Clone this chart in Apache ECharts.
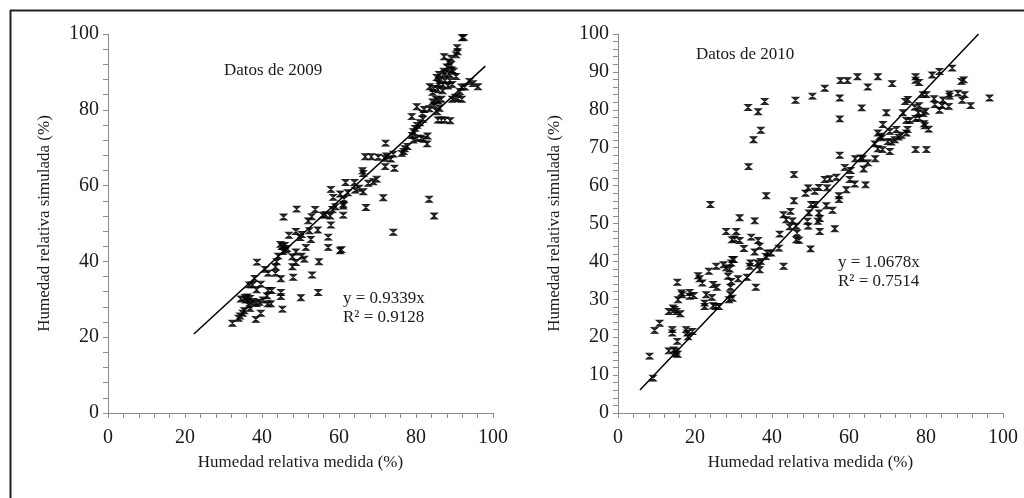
<!DOCTYPE html>
<html>
<head>
<meta charset="utf-8">
<script src="https://cdn.jsdelivr.net/npm/echarts@6/dist/echarts.min.js"></script>
<style>
  html, body { margin: 0; padding: 0; background: #fff; }
  #chart { width: 1024px; height: 498px; }
</style>
</head>
<body>
<div id="chart"></div>
<script>
// medida / simulada, 2009
const puntos2009 = [
  [92.0,99.0],[92.4,99.1],[90.7,96.4],[90.8,95.3],[90.4,94.5],[87.3,94.0],[89.1,93.6],[88.5,92.6],[89.0,91.8],[88.0,91.3],
  [89.3,90.5],[87.2,90.2],[86.0,89.3],[87.4,89.5],[88.6,89.5],[89.8,90.2],[90.4,88.8],[85.4,88.5],[86.2,87.7],[87.5,87.7],
  [88.8,87.7],[85.9,86.9],[87.0,86.6],[88.3,86.3],[89.4,86.7],[83.6,86.1],[84.6,85.6],[85.7,85.3],[86.9,85.0],[84.3,84.6],
  [93.9,87.5],[94.8,86.9],[96.1,86.1],[91.8,86.0],[92.7,86.0],[91.4,84.8],[90.9,83.0],[90.2,83.3],[89.4,82.8],[91.9,82.8],
  [85.2,82.8],[85.8,82.3],[86.6,82.8],[84.3,82.1],[80.2,80.8],[82.1,80.1],[81.7,79.1],[83.5,80.3],[84.7,81.2],[86.1,80.4],
  [85.5,79.5],[78.9,78.2],[85.7,77.3],[86.6,77.3],[87.5,77.3],[88.9,77.1],[81.8,77.5],[81.0,76.6],[80.3,75.9],[79.8,75.1],
  [79.3,74.2],[79.0,73.2],[79.3,72.0],[81.3,72.5],[83.0,73.1],[82.9,71.0],[82.0,72.2],[80.3,72.5],
  [72.1,71.2],[77.1,69.7],[77.8,70.3],[76.3,68.5],[76.8,69.0],[74.1,68.3],[72.3,67.8],[71.9,67.2],[73.5,67.0],[70.2,67.5],
  [68.4,67.6],[66.8,67.6],[74.4,64.6],[72.0,65.0],[66.1,63.9],[66.3,63.2],[69.8,61.7],[68.9,61.0],[67.6,60.6],[64.0,60.8],
  [61.7,60.8],[65.2,59.3],[64.2,58.8],[66.3,58.4],[62.3,58.1],[60.3,57.8],[57.9,59.0],[58.5,56.9],[61.3,56.4],[61.1,55.1],
  [61.1,54.6],[59.1,54.4],[58.3,53.7],[61.1,52.2],[57.7,52.0],[55.8,52.2],[56.5,52.3],[53.8,53.7],[52.9,51.8],[52.0,50.7],
  [49.0,53.8],[45.6,51.7],[57.9,49.6],[57.2,46.4],[57.2,43.7],[60.3,42.8],[60.6,43.1],[71.5,56.8],[67.0,54.2],[83.4,56.4],
  [84.7,52.0],[74.1,47.7],[54.5,48.3],[52.3,48.1],[48.8,47.9],[47.0,46.9],[50.3,47.1],[49.9,46.3],[52.7,45.8],[51.4,43.7],
  [50.3,41.4],[51.0,40.6],[54.8,39.9],[53.0,36.4],[54.6,31.8],[50.1,30.4],
  [45.2,43.9],[45.4,42.6],[46.2,43.0],[46.5,43.4],[45.9,44.2],[44.8,44.5],[47.9,41.2],[48.8,42.5],[48.8,39.7],[47.9,38.6],
  [48.1,35.8],[44.2,41.4],[43.8,39.9],[43.5,38.6],[43.5,36.9],[44.9,35.4],[44.9,31.8],[44.9,30.7],[45.3,27.4],[41.6,36.9],
  [40.8,37.9],[38.7,39.8],[39.7,34.0],[38.1,35.5],[38.6,32.5],[37.5,33.8],[36.7,33.8],[41.6,32.3],[42.5,32.3],[41.3,30.9],
  [42.3,28.8],[41.5,28.8],[40.3,29.8],[39.3,29.2],[38.6,28.9],[37.7,29.4],[36.5,28.5],[35.8,29.8],[35.6,30.5],[36.2,30.6],
  [36.9,30.2],[34.5,30.1],[36.9,27.6],[35.0,26.3],[34.3,25.6],[33.9,25.0],[35.4,27.0],[32.3,23.7],[38.4,24.7],[39.7,26.3]
]

// medida / simulada, 2010
const puntos2010 = [
  [33.8,80.6],[36.4,79.5],[37.1,74.6],[35.2,72.1],[33.9,65.0],[38.1,82.2],[38.5,57.3],[46.1,82.5],[50.5,83.6],[53.7,85.7],
  [57.8,87.7],[59.6,87.7],[62.2,88.7],[64.9,86.0],[57.6,83.1],[57.6,77.6],[63.3,80.5],[67.5,88.7],[71.2,86.9],[77.3,88.7],
  [77.3,87.8],[78.2,87.2],[81.6,89.2],[83.5,90.1],[86.8,91.0],[89.2,87.5],[89.8,87.9],[90.0,84.0],[89.4,82.5],[91.6,81.1],
  [96.5,83.1],[88.3,84.4],[86.1,84.2],[86.1,83.6],[84.4,82.6],[84.2,81.1],[83.5,79.9],[85.9,80.9],[82.1,82.9],[82.3,81.4],
  [80.1,84.0],[79.2,84.0],[78.2,81.1],[77.1,80.7],[78.0,79.2],[79.9,79.6],[79.3,79.0],[78.2,77.8],[77.3,77.7],[79.5,76.3],
  [79.7,75.8],[80.7,74.9],[75.8,77.2],[74.9,77.2],[75.2,74.8],[74.9,73.9],[74.0,79.2],[74.6,82.2],[75.3,82.7],[72.9,72.8],
  [73.6,73.3],[72.3,74.8],[70.6,74.3],[71.9,72.1],[71.0,71.5],[70.1,71.6],[68.8,76.1],[69.7,79.2],[67.5,73.9],[68.0,73.0],
  [68.6,72.6],[66.7,71.0],[67.5,69.7],[68.7,69.5],[70.6,69.0],[77.3,69.5],[80.1,69.5],[66.8,67.1],[64.9,66.0],[63.6,67.1],
  [63.1,67.3],[61.6,67.1],[63.8,64.4],[64.3,60.2],[61.5,60.4],[60.2,61.6],[60.4,64.0],[58.9,64.8],[59.3,58.9],[57.6,68.0],
  [56.7,62.2],[55.0,61.8],[53.7,61.6],[57.4,57.3],[57.4,56.3],[54.3,59.4],[52.2,59.5],[51.1,58.5],[49.4,59.4],[48.7,58.0],
  [55.7,53.5],[54.1,54.7],[51.1,55.0],[50.2,55.0],[49.6,52.8],[52.2,52.8],[52.4,51.3],[51.9,50.6],[49.2,50.6],[49.4,49.3],
  [52.4,47.9],[56.3,48.6],[50.0,43.3],[45.7,56.0],[45.7,62.9],[44.8,53.2],[43.0,52.3],[43.7,51.0],[45.3,50.7],[44.6,49.1],
  [46.3,49.3],[46.5,47.5],[46.3,45.7],[47.0,45.6],[42.0,47.2],[41.8,43.5],[43.0,38.7],[39.8,42.2],[38.8,42.2],[38.4,41.3],
  [37.1,40.0],[36.8,37.8],[36.2,39.6],[36.4,45.5],[36.8,44.0],[35.5,50.7],[35.5,42.5],[34.6,46.4],[34.4,39.6],[34.2,38.7],
  [33.5,35.8],[35.8,33.2],[32.7,43.4],[31.6,51.5],[31.6,45.5],[30.3,45.9],[29.6,45.7],[28.1,47.9],[30.7,47.9],[29.7,40.5],
  [30.1,40.5],[29.4,39.6],[29.0,38.0],[27.4,39.1],[28.1,38.3],[28.6,36.1],[29.4,34.7],[31.2,35.4],[29.2,33.2],[29.2,31.2],
  [29.7,30.3],[28.8,29.9],[25.5,38.7],[23.6,37.4],[24.7,33.9],[25.7,33.2],[24.4,30.5],[22.9,31.2],[22.5,29.0],[22.5,28.1],
  [24.7,28.3],[25.4,28.1],[26.2,28.1],[24.0,55.0],[20.8,36.2],[21.2,35.4],[21.9,34.3],[15.4,34.5],[16.5,31.7],[16.7,31.2],
  [15.6,29.9],[18.6,31.8],[18.6,30.8],[19.7,31.0],[13.2,26.8],[14.3,27.7],[14.7,27.3],[15.2,26.8],[16.2,26.2],[10.8,23.7],
  [9.5,21.8],[14.1,22.0],[14.1,21.1],[17.7,22.0],[18.0,21.1],[18.2,20.1],[19.3,21.5],[15.4,18.9],[13.2,16.4],[14.5,16.6],
  [15.1,16.3],[15.5,15.5],[15.0,15.6],[8.2,15.0],[9.1,9.2]
]

// rectas de ajuste y = a·x
const ajuste2009 = { pendiente: 0.9339, desde: 22.3, hasta: 98.0 }
const ajuste2010 = { pendiente: 1.0678, desde: 5.7, hasta: 93.65 }

const ticks2009 = { min: 0, max: 100, interval: 20 }
const ticks2010 = { min: 0, max: 100, interval: 10 }
const ticksX = { min: 0, max: 100, interval: 20 }

const serif = "'Liberation Serif', 'Times New Roman', serif"
const gris = '#8c8c8c'
const marca = 'path://M0,0L10,0L0,10L10,10Z'

const recta = a => [[a.desde, a.pendiente * a.desde], [a.hasta, a.pendiente * a.hasta]]

const ejeX = idx => ({
  type: 'value', gridIndex: idx, min: ticksX.min, max: ticksX.max, interval: ticksX.interval,
  name: 'Humedad relativa medida (%)', nameLocation: 'middle', nameGap: 41,
  nameTextStyle: { fontFamily: serif, fontSize: 17, color: '#1a1a1a' },
  axisLine: { lineStyle: { color: gris, width: 1 } },
  axisTick: { show: true, length: 5, lineStyle: { color: gris } },
  minorTick: { show: true, splitNumber: 5, length: 5, lineStyle: { color: gris } },
  splitLine: { show: false },
  axisLabel: { fontFamily: serif, fontSize: 20, color: '#1a1a1a', margin: 15 }
})

const ejeY = (idx, t) => ({
  type: 'value', gridIndex: idx, min: t.min, max: t.max, interval: t.interval,
  name: 'Humedad relativa simulada (%)', nameLocation: 'middle', nameGap: 55,
  nameTextStyle: { fontFamily: serif, fontSize: 17, color: '#1a1a1a' },
  axisLine: { show: true, lineStyle: { color: gris, width: 1 } },
  axisTick: { show: true, length: 5, lineStyle: { color: gris } },
  minorTick: { show: true, splitNumber: 5, length: 5, lineStyle: { color: gris } },
  splitLine: { show: false },
  axisLabel: { fontFamily: serif, fontSize: 20, color: '#1a1a1a', margin: 9 }
})

const dispersion = (idx, datos) => ({
  type: 'scatter', xAxisIndex: idx, yAxisIndex: idx, data: datos,
  symbol: marca, symbolSize: [7, 6], silent: true,
  itemStyle: { color: '#000', borderColor: '#000', borderWidth: 1 }
})

const lineaAjuste = (idx, a) => ({
  type: 'line', xAxisIndex: idx, yAxisIndex: idx, data: recta(a),
  symbol: 'none', silent: true, z: 3,
  lineStyle: { color: '#000', width: 1.5 }
})

const texto = (x, y, t) => ({
  type: 'text', left: x, top: y,
  style: { text: t, font: '17px ' + serif, fill: '#1a1a1a' }
})

const chart = echarts.init(document.getElementById('chart'))
chart.setOption({
  animation: false,
  backgroundColor: '#fff',
  grid: [
    { left: 108, top: 34, width: 385, height: 379 },
    { left: 618, top: 34, width: 385, height: 379 }
  ],
  xAxis: [ejeX(0), ejeX(1)],
  yAxis: [ejeY(0, ticks2009), ejeY(1, ticks2010)],
  series: [
    dispersion(0, puntos2009),
    lineaAjuste(0, ajuste2009),
    dispersion(1, puntos2010),
    lineaAjuste(1, ajuste2010)
  ],
  graphic: [
    { type: 'line', shape: { x1: 10.5, y1: 10, x2: 10.5, y2: 498 }, style: { stroke: '#222', lineWidth: 2 } },
    { type: 'line', shape: { x1: 10, y1: 10.5, x2: 1024, y2: 10.5 }, style: { stroke: '#222', lineWidth: 2 } },
    texto(224, 62, 'Datos de 2009'),
    texto(343, 290, 'y = 0.9339x'),
    texto(343, 309, 'R² = 0.9128'),
    texto(696, 46, 'Datos de 2010'),
    texto(838, 254, 'y = 1.0678x'),
    texto(838, 273, 'R² = 0.7514')
  ]
})
</script>
</body>
</html>
